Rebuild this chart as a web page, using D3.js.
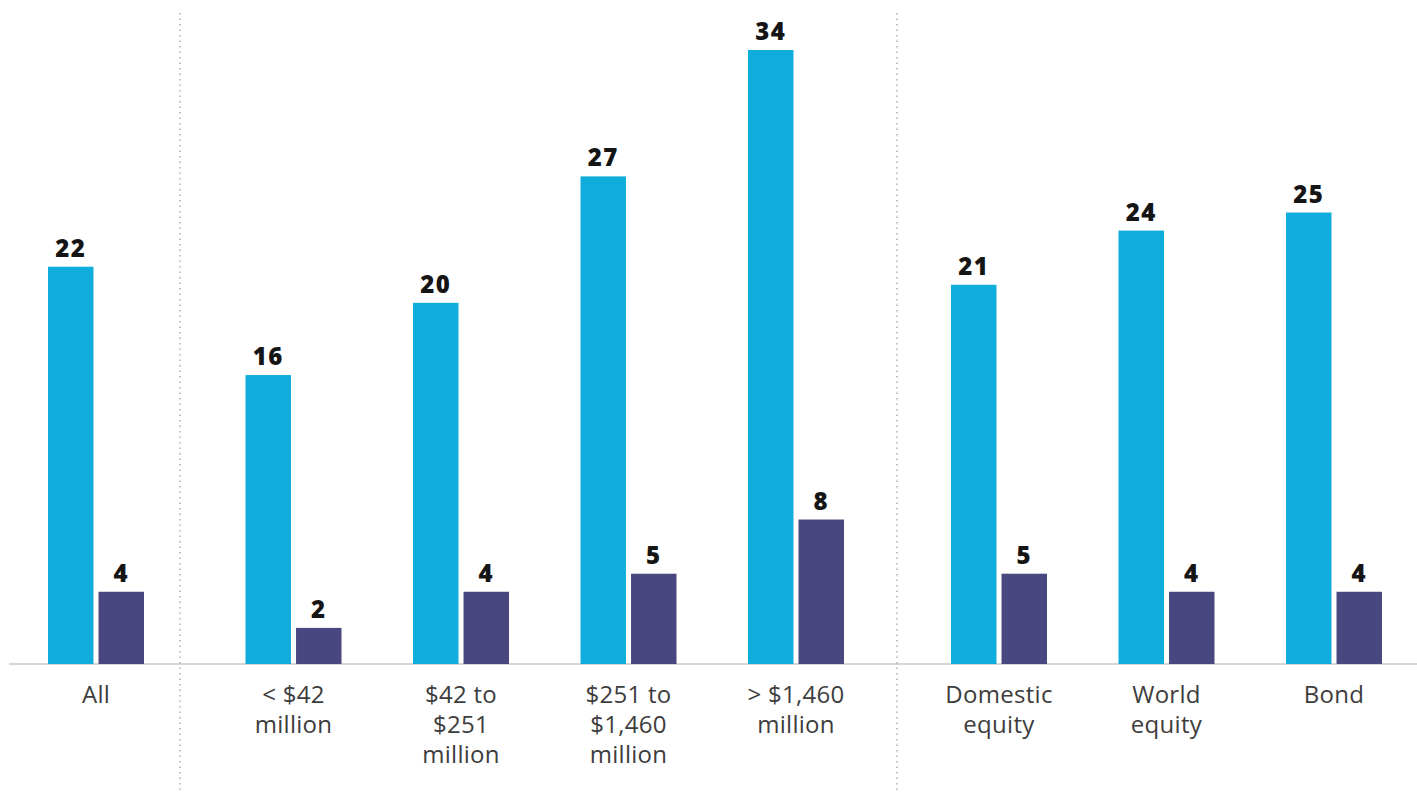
<!DOCTYPE html>
<html><head><meta charset="utf-8">
<script src="https://cdn.jsdelivr.net/npm/d3@7"></script>
<style>html,body{margin:0;padding:0;background:#fff;}</style>
</head><body>
<script>
const categories = ["All", "< $42 million", "$42 to $251 million", "$251 to $1,460 million", "> $1,460 million", "Domestic equity", "World equity", "Bond"];
const categoryLines = [["All"], ["< $42", "million"], ["$42 to", "$251", "million"], ["$251 to", "$1,460", "million"], ["> $1,460", "million"], ["Domestic", "equity"], ["World", "equity"], ["Bond"]];
const sections = [["All"], ["< $42 million", "$42 to $251 million", "$251 to $1,460 million", "> $1,460 million"], ["Domestic equity", "World equity", "Bond"]];
const seriesNames = ["a", "b"];
const seriesA = [22, 16, 20, 27, 34, 21, 24, 25];
const seriesB = [4, 2, 4, 5, 8, 5, 4, 4];
const colors = ["#0eaddb", "#484780"];

const W = 1417, H = 792;
const svg = d3.select("body").append("svg").attr("width", W).attr("height", H);

const y = d3.scaleLinear().domain([0, 34]).range([664, 50]);

const sectionRanges = [[14, 178], [209.75, 879.75], [915.25, 1417.75]];
const sectionScales = sections.map((cats, i) => d3.scaleBand().domain(cats).range(sectionRanges[i]).padding(0));
const dividers = [180, 897];
function centerOf(cat) {
  for (const s of sectionScales) if (s.domain().includes(cat)) return s(cat) + s.bandwidth() / 2;
}
const inner = d3.scaleBand().domain(seriesNames).range([-48, 48]).paddingInner(0.1).paddingOuter(0);

// axis baseline
svg.append("line").attr("x1", 9).attr("x2", W).attr("y1", y(0)).attr("y2", y(0))
  .attr("stroke", "#c8c8c8").attr("stroke-width", 1.5);

// dividers
svg.selectAll("line.div").data(dividers).join("line").attr("class", "div")
  .attr("x1", d => d).attr("x2", d => d).attr("y1", 13).attr("y2", H)
  .attr("stroke", "#9a9a9a").attr("stroke-width", 1.2).attr("stroke-dasharray", "1.5,4");

const data = categories.map((c, i) => ({ c, vals: [seriesA[i], seriesB[i]], lines: categoryLines[i] }));

const g = svg.selectAll("g.grp").data(data).join("g").attr("class", "grp")
  .attr("transform", d => `translate(${centerOf(d.c)},0)`);

g.selectAll("rect").data(d => d.vals.map((v, j) => ({ v, s: seriesNames[j], j }))).join("rect")
  .attr("x", d => inner(d.s)).attr("width", inner.bandwidth())
  .attr("y", d => y(d.v)).attr("height", d => y(0) - y(d.v))
  .attr("fill", d => colors[d.j]);

g.selectAll("text.val").data(d => d.vals.map((v, j) => ({ v, s: seriesNames[j] }))).join("text").attr("class", "val")
  .attr("x", d => inner(d.s) + inner.bandwidth() / 2).attr("y", d => y(d.v) - 10)
  .attr("text-anchor", "middle").attr("font-family", "'Open Sans', sans-serif").attr("font-weight", 800)
  .attr("font-size", 24).attr("letter-spacing", 1.5).attr("fill", "#151515").text(d => d.v);

g.append("text").attr("text-anchor", "middle").attr("font-family", "'Open Sans', sans-serif")
  .attr("font-size", 24).attr("letter-spacing", 0.3).attr("fill", "#3d3d3d")
  .selectAll("tspan").data(d => d.lines).join("tspan")
  .attr("x", 0).attr("y", (d, i) => 703 + i * 30).text(d => d);
</script>
</body></html>
